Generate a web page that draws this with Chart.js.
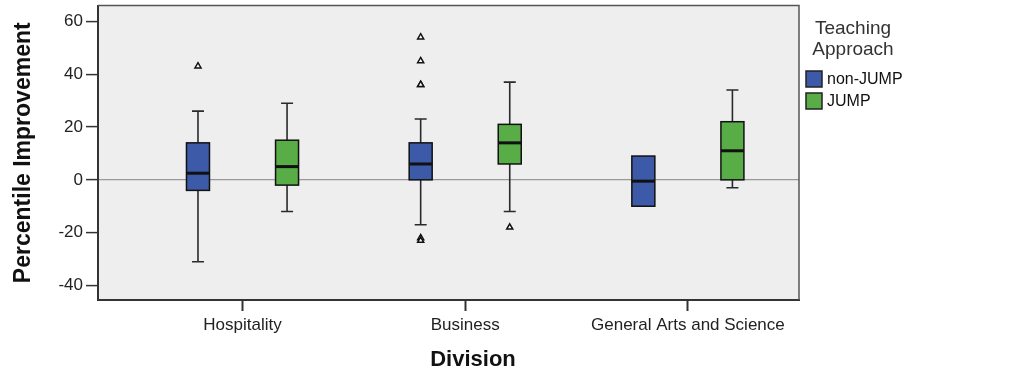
<!DOCTYPE html>
<html>
<head>
<meta charset="utf-8">
<script src="https://cdn.jsdelivr.net/npm/chart.js@4.4.1/dist/chart.umd.min.js"></script>
<style>
  html, body { margin: 0; padding: 0; background: #fff; }
</style>
</head>
<body>
<canvas id="chart" width="1013" height="372"></canvas>
<script>
const divisions = ['Hospitality', 'Business', 'General Arts and Science'];
const approaches = ['non-JUMP', 'JUMP'];
// [lower whisker, Q1, median, Q3, upper whisker] per division
const nonJumpBoxes = [
  [-31, -4, 2.5, 14, 26],
  [-17, 0, 6, 14, 23],
  [-10, -10, -0.5, 9, 9],
];
const jumpBoxes = [
  [-12, -2, 5, 15, 29],
  [-12, 6, 14, 21, 37],
  [-3, 0, 11, 22, 34],
];
const nonJumpOutliers = [[43], [54, 45, 36, 36, -22, -23], []];
const jumpOutliers = [[], [-18], []];
const yTicks = [-40, -20, 0, 20, 40, 60];
const legendTitle = ['Teaching', 'Approach'];
const xTitle = 'Division';
const yTitle = 'Percentile Improvement';

const COLORS = ['#3d5aa8', '#58ad47'];
const OFFSETS = [-0.2, 0.2];
const BOX_W = 23;
const CAP_W = 12;
const FONT = '"Liberation Sans", Arial, sans-serif';

const allBoxes = [nonJumpBoxes, jumpBoxes];
const allOutliers = [nonJumpOutliers, jumpOutliers];

const plotBackground = {
  id: 'plotBackground',
  beforeDraw(chart) {
    const { ctx, chartArea: a } = chart;
    ctx.save();
    ctx.fillStyle = '#eeeeee';
    ctx.fillRect(a.left, a.top, a.right - a.left, a.bottom - a.top);
    ctx.restore();
  },
};

const boxPlot = {
  id: 'boxPlot',
  beforeDatasetsDraw(chart) {
    const { ctx, scales: { x, y } } = chart;
    ctx.save();
    allBoxes.forEach((boxes, s) => {
      boxes.forEach(([lo, q1, med, q3, hi], i) => {
        const cx = x.getPixelForValue(i + OFFSETS[s]);
        const left = cx - BOX_W / 2;

        ctx.strokeStyle = '#2a2a2a';
        ctx.lineWidth = 1.6;
        drawWhisker(ctx, cx, y.getPixelForValue(q3), y.getPixelForValue(hi), hi > q3);
        drawWhisker(ctx, cx, y.getPixelForValue(q1), y.getPixelForValue(lo), lo < q1);

        const top = y.getPixelForValue(q3);
        const bottom = y.getPixelForValue(q1);
        ctx.fillStyle = COLORS[s];
        ctx.fillRect(left, top, BOX_W, bottom - top);
        ctx.strokeStyle = '#111';
        ctx.lineWidth = 1.5;
        ctx.strokeRect(left, top, BOX_W, bottom - top);

        const my = y.getPixelForValue(med);
        ctx.lineWidth = 3;
        ctx.beginPath();
        ctx.moveTo(left, my);
        ctx.lineTo(left + BOX_W, my);
        ctx.stroke();
      });
    });
    ctx.restore();
  },
};

function drawWhisker(ctx, cx, from, to, show) {
  if (!show) return;
  ctx.beginPath();
  ctx.moveTo(cx, from);
  ctx.lineTo(cx, to);
  ctx.moveTo(cx - CAP_W / 2, to);
  ctx.lineTo(cx + CAP_W / 2, to);
  ctx.stroke();
}

const frameAndLegend = {
  id: 'frameAndLegend',
  afterDraw(chart) {
    const { ctx, chartArea: a } = chart;
    ctx.save();

    // top and right edges of the plot frame
    ctx.strokeStyle = '#555';
    ctx.lineWidth = 1.5;
    ctx.beginPath();
    ctx.moveTo(a.left, a.top);
    ctx.lineTo(a.right, a.top);
    ctx.lineTo(a.right, a.bottom);
    ctx.stroke();

    // x axis title
    ctx.fillStyle = '#111';
    ctx.font = `bold 22px ${FONT}`;
    ctx.textAlign = 'center';
    ctx.textBaseline = 'middle';
    ctx.fillText(xTitle, 473, 360);

    // legend
    const lx = a.right + 54;
    ctx.fillStyle = '#333';
    ctx.font = `19px ${FONT}`;
    ctx.textBaseline = 'alphabetic';
    legendTitle.forEach((line, k) => ctx.fillText(line, lx, 34 + k * 21));

    ctx.textAlign = 'left';
    ctx.textBaseline = 'middle';
    ctx.font = `16px ${FONT}`;
    approaches.forEach((name, s) => {
      const sy = 71 + s * 22;
      ctx.fillStyle = COLORS[s];
      ctx.fillRect(a.right + 7, sy, 16, 16);
      ctx.strokeStyle = '#222';
      ctx.lineWidth = 1.5;
      ctx.strokeRect(a.right + 7, sy, 16, 16);
      ctx.fillStyle = '#111';
      ctx.fillText(name, a.right + 28, sy + 8.5);
    });
    ctx.restore();
  },
};

const outlierDatasets = allOutliers.map((groups, s) => ({
  label: approaches[s],
  data: groups.flatMap((vals, i) => vals.map((v) => ({ x: i + OFFSETS[s], y: v }))),
  pointStyle: 'triangle',
  pointRadius: 3.5,
  borderWidth: 1.5,
  borderColor: '#111',
  backgroundColor: '#fff',
}));

new Chart(document.getElementById('chart'), {
  type: 'scatter',
  data: { datasets: outlierDatasets },
  plugins: [plotBackground, boxPlot, frameAndLegend],
  options: {
    responsive: false,
    animation: false,
    layout: { padding: { top: 5, right: 214, left: 0, bottom: 0 } },
    plugins: {
      legend: { display: false },
      tooltip: { enabled: false },
    },
    scales: {
      x: {
        type: 'linear',
        min: -0.649,
        max: 2.499,
        afterBuildTicks: (scale) => {
          scale.ticks = divisions.map((_, i) => ({ value: i }));
        },
        afterFit: (scale) => {
          scale.height = 72;
          scale.paddingLeft = 0;
          scale.paddingRight = 0;
        },
        ticks: {
          autoSkip: false,
          maxRotation: 0,
          padding: 4,
          color: '#222',
          font: { family: FONT, size: 17 },
          callback: (value) => divisions[value],
        },
        grid: {
          drawOnChartArea: false,
          tickLength: 11,
          tickColor: '#333',
          tickWidth: 2,
        },
        border: { color: '#333', width: 2 },
      },
      y: {
        min: -45.5,
        max: 66,
        afterBuildTicks: (scale) => {
          scale.ticks = yTicks.map((value) => ({ value }));
        },
        afterFit: (scale) => {
          scale.width = 98;
          scale.paddingTop = 0;
          scale.paddingBottom = 0;
        },
        ticks: {
          padding: 3,
          color: '#222',
          font: { family: FONT, size: 17 },
        },
        grid: {
          color: (ctx) => (ctx.tick && ctx.tick.value === 0 ? '#999' : 'rgba(0,0,0,0)'),
          lineWidth: 1.2,
          tickLength: 12,
          tickColor: '#333',
          tickWidth: 1.5,
        },
        border: { color: '#333', width: 2 },
        title: {
          display: true,
          text: yTitle,
          color: '#111',
          padding: { top: 10 },
          font: { family: FONT, size: 23, weight: 'bold' },
        },
      },
    },
  },
});
</script>
</body>
</html>
